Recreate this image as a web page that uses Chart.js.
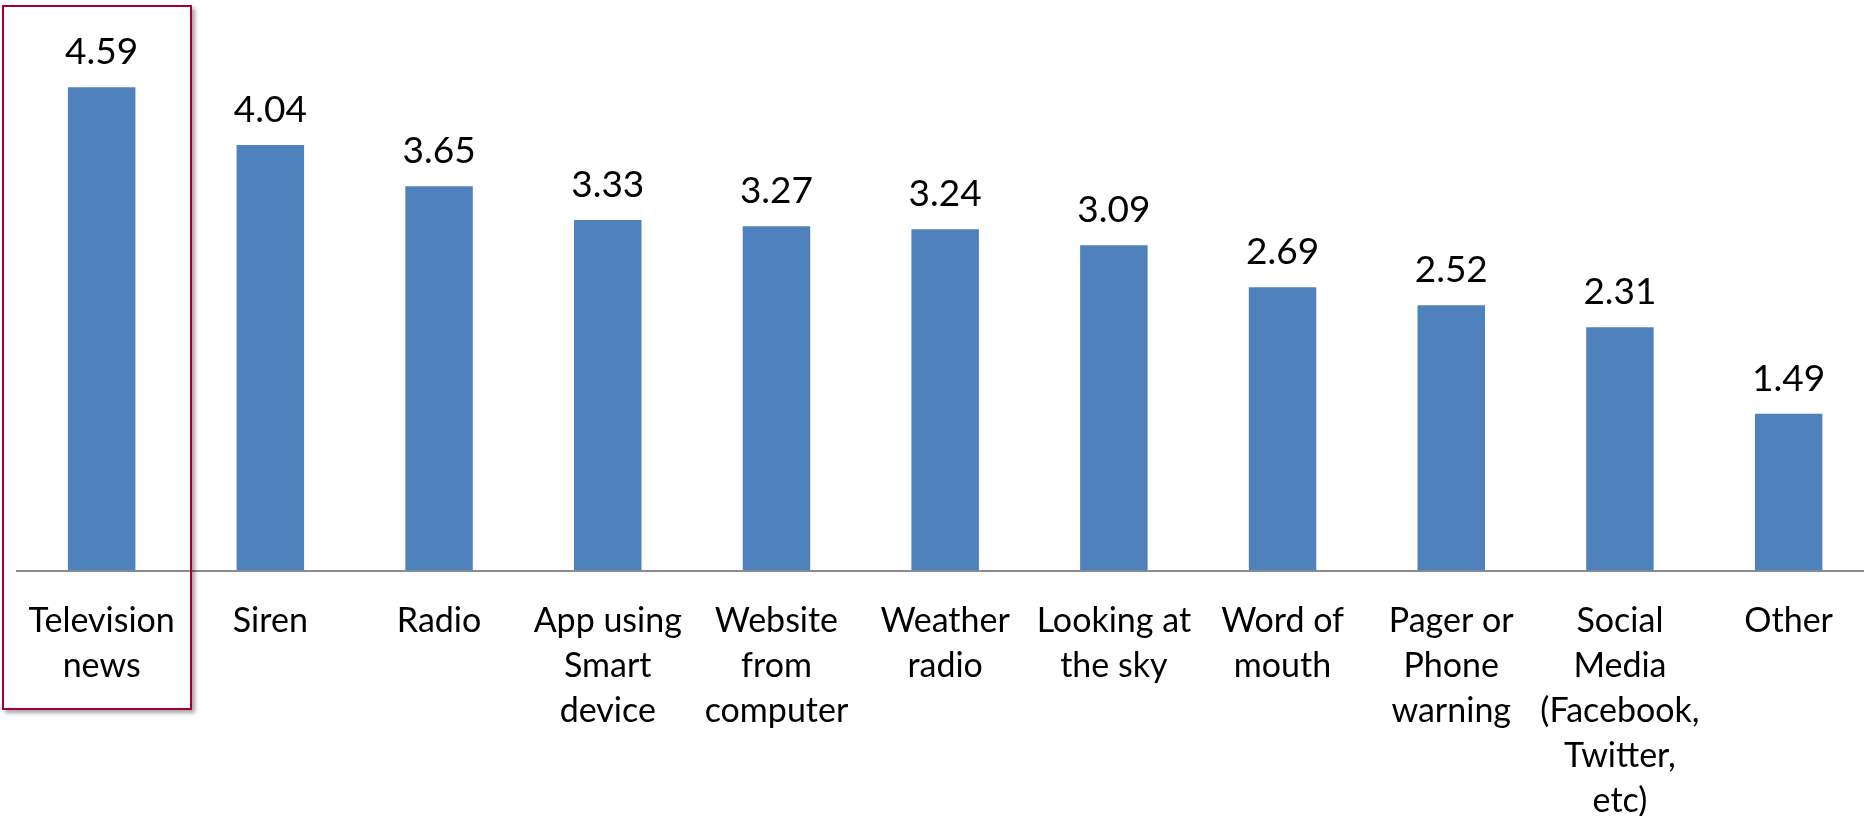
<!DOCTYPE html>
<html>
<head>
<meta charset="utf-8">
<script src="https://cdn.jsdelivr.net/npm/chart.js@4.4.1/dist/chart.umd.min.js"></script>
<style>
  html, body { margin: 0; padding: 0; background: #fff; overflow: hidden; }
  #wrap { position: relative; width: 1874px; height: 816px; }
  #highlight {
    position: absolute; left: 2px; top: 5px; width: 186px; height: 701px;
    border: 2px solid #a3002e;
    box-shadow: 3px 3px 4px rgba(0, 0, 0, 0.35);
    pointer-events: none;
  }
</style>
</head>
<body>
<div id="wrap">
  <canvas id="chart" width="1874" height="816"></canvas>
  <div id="highlight"></div>
</div>
<script>
// categories (multi-line labels as in the original)
const categories = [
    ['Television', 'news'],
    ['Siren'],
    ['Radio'],
    ['App using', 'Smart', 'device'],
    ['Website', 'from', 'computer'],
    ['Weather', 'radio'],
    ['Looking at', 'the sky'],
    ['Word of', 'mouth'],
    ['Pager or', 'Phone', 'warning'],
    ['Social', 'Media', '(Facebook,', 'Twitter,', 'etc)'],
    ['Other']
];

// mean rating per source
const ratings = [4.59, 4.04, 3.65, 3.33, 3.27, 3.24, 3.09, 2.69, 2.52, 2.31, 1.49];

const barColor = '#4f81bd';

// Draw the value above each bar
const valueLabels = {
    id: 'valueLabels',
    afterDatasetsDraw(chart) {
        const ctx = chart.ctx;
        const meta = chart.getDatasetMeta(0);
        ctx.save();
        ctx.font = '37px Lato';
        ctx.fillStyle = '#000';
        ctx.textAlign = 'center';
        ctx.textBaseline = 'alphabetic';
        meta.data.forEach((bar, i) => {
            ctx.fillText(ratings[i].toFixed(2), bar.x, bar.y - 23);
        });
        ctx.restore();
    }
};

new Chart(document.getElementById('chart'), {
    type: 'bar',
    data: {
        labels: categories,
        datasets: [{
            data: ratings,
            backgroundColor: barColor,
            borderWidth: 0,
            barPercentage: 0.4,
            categoryPercentage: 1.0
        }]
    },
    options: {
        responsive: false,
        animation: false,
        layout: {
            padding: { left: 11, right: 1, top: 44, bottom: -35 }
        },
        scales: {
            x: {
                grid: { display: false, drawTicks: false },
                border: { display: true, color: '#8c8c8c', width: 2 },
                ticks: {
                    color: '#000',
                    padding: 28,
                    maxRotation: 0,
                    autoSkip: false,
                    font: { family: 'Lato', size: 34, lineHeight: 1.32 }
                }
            },
            y: {
                display: false,
                min: 0,
                max: 5
            }
        },
        plugins: {
            legend: { display: false },
            tooltip: { enabled: false }
        }
    },
    plugins: [valueLabels]
});
</script>
</body>
</html>
